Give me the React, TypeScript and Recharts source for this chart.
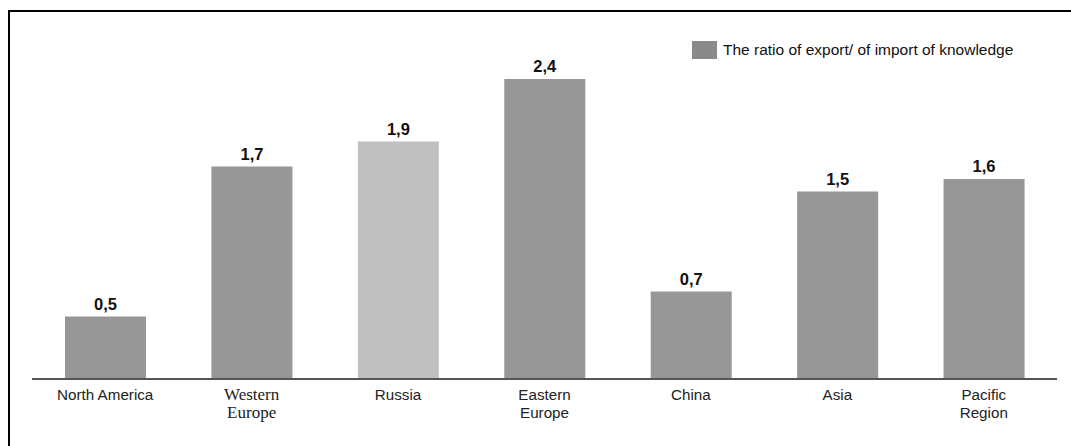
import React from "react";
import { BarChart, Bar, XAxis, YAxis, Cell, LabelList } from "recharts";

// Regions (line breaks split the axis labels) and their export/import ratio
const categories = [
  "North America",
  "Western\nEurope",
  "Russia",
  "Eastern\nEurope",
  "China",
  "Asia",
  "Pacific\nRegion",
];
const ratios = [0.5, 1.7, 1.9, 2.4, 0.7, 1.5, 1.6];
const seriesName = "The ratio of export/ of import of knowledge";
const titleText = "The ratio of export/ of import of knowledge in the world regions, 2008";
const highlighted = "Russia";
const serifLabels = ["Western\nEurope"];

const data = categories.map((name, i) => ({ name, value: ratios[i] }));

const BAR = "#979797";
const BAR_LIGHT = "#c0c0c0";

const sans = "'Liberation Sans', Arial, sans-serif";
const serif = "'Liberation Serif', 'Times New Roman', serif";

function RegionTick(props: any) {
  const { x, y, payload } = props;
  const label: string = payload.value;
  const lines = label.split("\n");
  const isSerif = serifLabels.includes(label);
  return (
    <g>
      {lines.map((line, i) => (
        <text
          key={i}
          x={x}
          y={y + 13 + i * 18}
          textAnchor="middle"
          fill="#222"
          fontFamily={isSerif ? serif : sans}
          fontSize={isSerif ? 17 : 15.2}
        >
          {line}
        </text>
      ))}
    </g>
  );
}

function LegendBox() {
  return (
    <div
      style={{
        position: "absolute",
        left: 692,
        top: 41,
        display: "flex",
        alignItems: "center",
        whiteSpace: "nowrap",
        fontFamily: sans,
        fontSize: 15.5,
        color: "#111",
      }}
    >
      <span style={{ display: "inline-block", width: 25, height: 18, background: "#8a8a8a", marginRight: 6 }} />
      <span>{seriesName}</span>
    </div>
  );
}

export default function App() {
  return (
    <div
      style={{
        position: "absolute",
        left: 0,
        top: 0,
        width: 1071,
        height: 446,
        overflow: "hidden",
        background: "#fff",
      }}
    >
      <div
        style={{
          position: "absolute",
          left: 0,
          top: -26,
          whiteSpace: "nowrap",
          fontFamily: serif,
          fontWeight: "bold",
          fontSize: 22,
          lineHeight: "28px",
          color: "#000",
        }}
      >
        {titleText}
      </div>
      <div
        style={{
          position: "absolute",
          left: 8,
          top: 10,
          width: 1200,
          height: 600,
          borderTop: "2px solid #000",
          borderLeft: "2px solid #000",
        }}
      />
      <div style={{ position: "absolute", left: 0, top: 0 }}>
        <BarChart
          width={1071}
          height={446}
          data={data}
          margin={{ top: 29, right: 14, bottom: 0, left: 32 }}
        >
          <XAxis
            dataKey="name"
            height={67}
            axisLine={{ stroke: "#555", strokeWidth: 2 }}
            tickLine={false}
            tick={<RegionTick />}
            interval={0}
          />
          <YAxis hide domain={[0, 2.8]} />
          <Bar dataKey="value" name={seriesName} barSize={81} isAnimationActive={false}>
            {data.map((d) => (
              <Cell key={d.name} fill={d.name === highlighted ? BAR_LIGHT : BAR} />
            ))}
            <LabelList
              dataKey="value"
              position="top"
              offset={7}
              formatter={(v: any) => String(v).replace(".", ",")}
              style={{ fontFamily: sans, fontWeight: "bold", fontSize: 16.5, fill: "#111" }}
            />
          </Bar>
        </BarChart>
      </div>
      <LegendBox />
    </div>
  );
}
